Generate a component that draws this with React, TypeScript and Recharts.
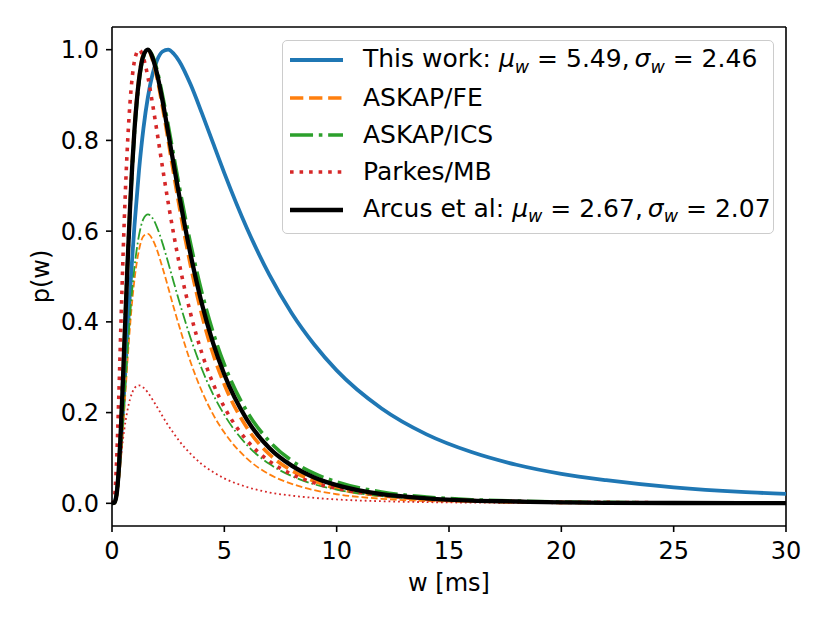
import { LineChart, Line, XAxis, YAxis, Legend, ReferenceLine } from 'recharts';

// pulse width grid [ms]
const widths = [0, 0.1, 0.2, 0.3, 0.4, 0.5, 0.6, 0.7, 0.8, 0.9, 1.0, 1.2, 1.4, 1.6, 1.8, 2.0, 2.25, 2.5, 2.75, 3.0, 3.5, 4.0, 4.5, 5, 6, 7, 8, 9, 10, 12, 14, 16, 18, 20, 22, 25, 28, 30];

// normalised p(w)
const thisWork = [0, 0.002, 0.021, 0.067, 0.133, 0.212, 0.297, 0.382, 0.464, 0.541, 0.612, 0.733, 0.827, 0.896, 0.945, 0.976, 0.996, 1.0, 0.991, 0.974, 0.923, 0.86, 0.794, 0.728, 0.607, 0.504, 0.419, 0.35, 0.293, 0.209, 0.152, 0.113, 0.085, 0.065, 0.051, 0.035, 0.025, 0.021];
const askapFE = [0, 0.001, 0.017, 0.072, 0.166, 0.286, 0.414, 0.539, 0.652, 0.749, 0.829, 0.938, 0.99, 0.999, 0.978, 0.939, 0.873, 0.8, 0.725, 0.653, 0.523, 0.415, 0.329, 0.262, 0.167, 0.108, 0.072, 0.049, 0.033, 0.017, 0.009, 0.005, 0.003, 0.002, 0.001, 0.0005, 0.0003, 0.0002];
const askapFEThin = [0, 0.0004, 0.01, 0.043, 0.099, 0.17, 0.246, 0.321, 0.388, 0.446, 0.493, 0.558, 0.589, 0.594, 0.582, 0.559, 0.519, 0.476, 0.431, 0.389, 0.311, 0.247, 0.196, 0.156, 0.099, 0.064, 0.043, 0.029, 0.02, 0.01, 0.005, 0.003, 0.002, 0.001, 0.0006, 0.0003, 0.0002, 0.0001];
const askapICS = [0, 0.001, 0.019, 0.077, 0.173, 0.291, 0.416, 0.536, 0.645, 0.739, 0.817, 0.927, 0.984, 1.0, 0.987, 0.956, 0.899, 0.834, 0.765, 0.697, 0.572, 0.465, 0.377, 0.306, 0.203, 0.137, 0.094, 0.066, 0.047, 0.025, 0.014, 0.008, 0.005, 0.003, 0.002, 0.001, 0.0006, 0.0004];
const askapICSThin = [0, 0.0006, 0.012, 0.049, 0.11, 0.185, 0.265, 0.341, 0.411, 0.471, 0.52, 0.59, 0.627, 0.637, 0.629, 0.609, 0.573, 0.531, 0.487, 0.444, 0.364, 0.296, 0.24, 0.195, 0.129, 0.087, 0.06, 0.042, 0.03, 0.016, 0.009, 0.005, 0.003, 0.002, 0.001, 0.0006, 0.0004, 0.0003];
const parkesMB = [0, 0.009, 0.087, 0.231, 0.399, 0.558, 0.693, 0.801, 0.882, 0.939, 0.975, 1.0, 0.982, 0.939, 0.882, 0.82, 0.74, 0.663, 0.592, 0.527, 0.418, 0.331, 0.264, 0.212, 0.139, 0.093, 0.064, 0.045, 0.033, 0.018, 0.01, 0.006, 0.004, 0.002, 0.002, 0.001, 0.0005, 0.0004];
const parkesMBThin = [0, 0.002, 0.023, 0.06, 0.104, 0.145, 0.18, 0.208, 0.229, 0.244, 0.254, 0.26, 0.255, 0.244, 0.229, 0.213, 0.192, 0.172, 0.154, 0.137, 0.109, 0.086, 0.069, 0.055, 0.036, 0.024, 0.017, 0.012, 0.0085, 0.0046, 0.0026, 0.0016, 0.001, 0.0006, 0.0004, 0.0002, 0.0001, 0.0001];
const arcus = [0, 0.001, 0.018, 0.074, 0.17, 0.288, 0.415, 0.537, 0.648, 0.744, 0.823, 0.933, 0.987, 1.0, 0.983, 0.948, 0.887, 0.817, 0.746, 0.676, 0.548, 0.44, 0.353, 0.284, 0.185, 0.122, 0.083, 0.057, 0.04, 0.02, 0.011, 0.006, 0.004, 0.002, 0.001, 0.0007, 0.0004, 0.0003];

const xTicks = [0, 5, 10, 15, 20, 25, 30];
const yTicks = [0, 0.2, 0.4, 0.6, 0.8, 1.0];
const xDomain = [0, 30];
const yDomain = [-0.05, 1.05];

const FONT = '"DejaVu Sans", sans-serif';
const FS = 24;
const LEGEND_FS = 25;
const THICK = 3.6;
const THIN = 1.8;

const chartData = widths.map((w, i) => ({
    w,
    thisWork: thisWork[i],
    askapFE: askapFE[i],
    askapFEThin: askapFEThin[i],
    askapICS: askapICS[i],
    askapICSThin: askapICSThin[i],
    parkesMB: parkesMB[i],
    parkesMBThin: parkesMBThin[i],
    arcus: arcus[i],
}));

// matplotlib style dash patterns, scaled by line width
const dashed = (lw: number) => `${3.7 * lw} ${1.6 * lw}`;
const dashDot = (lw: number) => `${6.4 * lw} ${1.6 * lw} ${1 * lw} ${1.6 * lw}`;
const dotted = (lw: number) => `${1 * lw} ${1.65 * lw}`;

const series = [
    { key: 'thisWork', color: '#1f77b4', width: 3.8, dash: undefined },
    { key: 'askapFE', color: '#ff7f0e', width: THICK, dash: dashed(THICK) },
    { key: 'askapFEThin', color: '#ff7f0e', width: THIN, dash: dashed(THIN) },
    { key: 'askapICS', color: '#2ca02c', width: THICK, dash: dashDot(THICK) },
    { key: 'askapICSThin', color: '#2ca02c', width: THIN, dash: dashDot(THIN) },
    { key: 'parkesMB', color: '#d62728', width: THICK, dash: dotted(THICK) },
    { key: 'parkesMBThin', color: '#d62728', width: THIN, dash: dotted(THIN) },
    { key: 'arcus', color: '#000000', width: 4.3, dash: undefined },
];

const MathSym = ({ s }: { s: string }) => (
    <span>
        <span style={{ fontStyle: 'italic' }}>{s}</span>
        <span style={{ fontStyle: 'italic', fontSize: '0.7em', position: 'relative', top: '0.3em' }}>w</span>
    </span>
);

const legendRows = [
    {
        key: 'thisWork',
        label: (
            <>This work: <MathSym s="μ" /> = 5.49,<span style={{ marginLeft: 5 }} /><MathSym s="σ" /> = 2.46</>
        ),
    },
    { key: 'askapFE', label: <>ASKAP/FE</> },
    { key: 'askapICS', label: <>ASKAP/ICS</> },
    { key: 'parkesMB', label: <>Parkes/MB</> },
    {
        key: 'arcus',
        label: (
            <>Arcus et al: <MathSym s="μ" /> = 2.67,<span style={{ marginLeft: 5 }} /><MathSym s="σ" /> = 2.07</>
        ),
    },
];

function LegendBox() {
    return (
        <div
            style={{
                position: 'relative',
                width: 492,
                height: 194,
                boxSizing: 'border-box',
                border: '1.2px solid #cccccc',
                borderRadius: 5,
                background: 'rgba(255,255,255,0.8)',
                fontFamily: FONT,
                fontSize: LEGEND_FS,
                color: '#000',
            }}
        >
            {legendRows.map((row, i) => {
                const s = series.find((d) => d.key === row.key)!;
                return (
                    <div
                        key={row.key}
                        style={{
                            position: 'absolute',
                            left: 7,
                            top: 19.3 + i * 37.3 - 15,
                            height: 30,
                            display: 'flex',
                            alignItems: 'center',
                            whiteSpace: 'nowrap',
                        }}
                    >
                        <svg width={53} height={30} style={{ display: 'block' }}>
                            <line x1={0} x2={53} y1={15} y2={15} stroke={s.color} strokeWidth={s.width} strokeDasharray={s.dash} />
                        </svg>
                        <span style={{ marginLeft: 20, lineHeight: '30px' }}>{row.label}</span>
                    </div>
                );
            })}
        </div>
    );
}

const axisStroke = { stroke: '#000', strokeWidth: 1.6 };
const tickStyle = { fill: '#000', fontSize: FS, fontFamily: FONT };

export default function App() {
    return (
        <div style={{ position: 'absolute', left: 0, top: 0, background: '#fff' }}>
            <LineChart width={830} height={623} data={chartData} margin={{ top: 27, right: 44, left: 0, bottom: 27 }}>
                <XAxis
                    dataKey="w"
                    type="number"
                    domain={xDomain}
                    ticks={xTicks}
                    height={70}
                    tick={tickStyle}
                    tickSize={6}
                    tickMargin={10}
                    axisLine={axisStroke}
                    tickLine={axisStroke}
                    label={{ value: 'w [ms]', position: 'insideBottom', offset: 5, fill: '#000', fontSize: FS, fontFamily: FONT }}
                />
                <YAxis
                    type="number"
                    domain={yDomain}
                    ticks={yTicks}
                    width={112}
                    tick={tickStyle}
                    tickSize={6}
                    tickMargin={7}
                    tickFormatter={(v: number) => v.toFixed(1)}
                    axisLine={axisStroke}
                    tickLine={axisStroke}
                    label={(props: any) => {
                        const vb = props.viewBox || { x: 0, y: 27, width: 112, height: 499 };
                        const cx = vb.x + 40.7;
                        const cy = vb.y + vb.height / 2;
                        return (
                            <text
                                x={cx}
                                y={cy}
                                transform={`rotate(-90, ${cx}, ${cy})`}
                                textAnchor="middle"
                                dominantBaseline="central"
                                fill="#000"
                                fontSize={FS}
                                fontFamily={FONT}
                            >
                                p(w)
                            </text>
                        );
                    }}
                />
                {/* top and right spines of the axes box */}
                <ReferenceLine y={yDomain[1]} stroke="#000" strokeWidth={1.6} />
                <ReferenceLine x={xDomain[1]} stroke="#000" strokeWidth={1.6} />
                {series.map((s) => (
                    <Line
                        key={s.key}
                        dataKey={s.key}
                        type="monotone"
                        stroke={s.color}
                        strokeWidth={s.width}
                        strokeDasharray={s.dash}
                        dot={false}
                        activeDot={false}
                        legendType="none"
                        isAnimationActive={false}
                    />
                ))}
                <Legend
                    layout="horizontal"
                    verticalAlign="middle"
                    align="center"
                    width={492}
                    wrapperStyle={{ left: 282, top: 40, width: 492 }}
                    content={() => <LegendBox />}
                />
            </LineChart>
        </div>
    );
}
